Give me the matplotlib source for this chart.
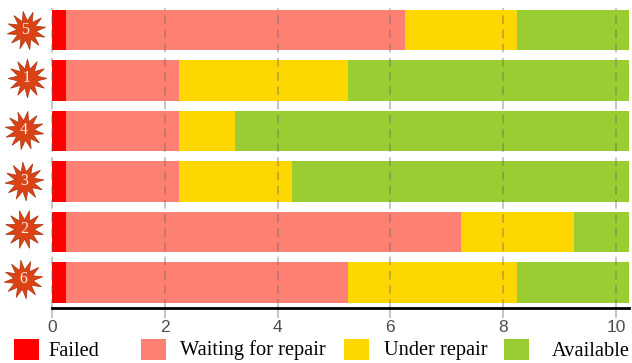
import matplotlib
matplotlib.use('Agg')
import numpy as np
import matplotlib.pyplot as plt
from matplotlib.patches import Rectangle
from matplotlib.transforms import blended_transform_factory

# top row first
machines = ['5', '1', '4', '3', '2', '6']
failed = [0.25, 0.25, 0.25, 0.25, 0.25, 0.25]
waiting = [6, 2, 2, 2, 7, 5]
under_repair = [2, 3, 1, 2, 2, 3]
available = [2, 5, 7, 6, 1, 2]
xticks = [0, 2, 4, 6, 8, 10]

state_names = ['Failed', 'Waiting for repair', 'Under repair', 'Available']
state_colors = ['#ff0000', '#fe8073', '#ffd700', '#9acd32']

W, H = 632, 363
fig = plt.figure(figsize=(W / 100, H / 100), dpi=100)
ax = fig.add_axes([52 / W, 1 - 308 / H, 577 / W, 300 / H])

rows = np.arange(len(machines))[::-1]
left = np.zeros(len(machines))
for vals, col in zip([failed, waiting, under_repair, available], state_colors):
    ax.barh(rows, vals, left=left, height=0.8, color=col, linewidth=0, zorder=2)
    left = left + np.array(vals)

ax.set_xlim(0, 10.23)
ax.set_ylim(-0.5, 5.43)
ax.set_yticks([])
ax.set_xticks(xticks)
ax.tick_params(axis='x', length=7, width=1.4, color='#c4c4c4', labelcolor='#4d4d4d',
               labelsize=12.5, pad=2)
for lab in ax.get_xticklabels():
    lab.set_family('Liberation Sans')
for x in xticks:
    ax.axvline(x, color='#666666', alpha=0.38, linewidth=1.4, linestyle=(0, (4.5, 2.8)),
               zorder=3, clip_on=False)
for s in ['top', 'left', 'right']:
    ax.spines[s].set_visible(False)
ax.spines['bottom'].set_linewidth(2)
ax.spines['bottom'].set_zorder(4)

# burst markers with the machine number
star_x = [25.5, 27, 24, 24, 24, 23]
star_dy = [0, 0.04, 0.02, 0.02, 0.06, 0.08]
star_rot = [10, 0, 20, 5, 15, 8]
trans = blended_transform_factory(fig.transFigure, ax.transData)
for r, m, sx, dy, rot in zip(rows, machines, star_x, star_dy, star_rot):
    ax.plot([sx / W], [r + dy], marker=(12, 1, rot), markersize=28, color='#dc4314',
            markeredgecolor='#a83210', markeredgewidth=0.5, transform=trans,
            clip_on=False, linestyle='none', zorder=5)
    ax.text(sx / W, r + dy, m, transform=trans, color='#fbeee6', fontsize=11.5,
            family='Liberation Serif', ha='center', va='center', zorder=6)

# hand placed legend, the gaps in the original are uneven
box_x = [14, 141, 344, 504]
text_x = [48, 180, 384, 552]
text_y = [351, 350, 350, 352]
for name, col, bx, tx, ty in zip(state_names, state_colors, box_x, text_x, text_y):
    fig.add_artist(Rectangle((bx / W, 1 - 360 / H), 24.5 / W, 21 / H, color=col,
                             linewidth=0, transform=fig.transFigure))
    fig.text(tx / W, 1 - ty / H, name, family='Liberation Serif', fontsize=14.7,
             color='black', ha='left', va='center')

fig.savefig('out.png', dpi=100)
